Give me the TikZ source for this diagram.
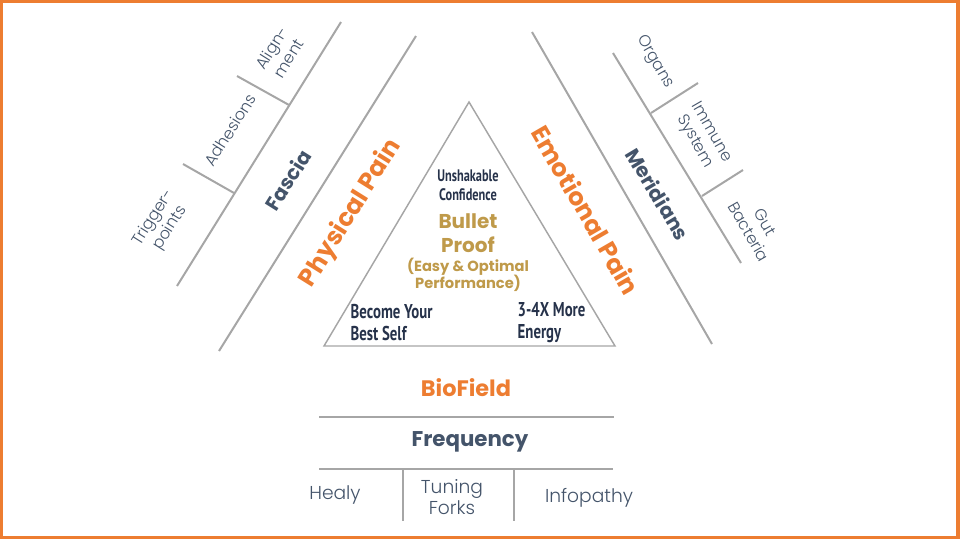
\documentclass[tikz,border=0pt]{standalone}
\usepackage{fontspec}
\setmainfont{Poppins}
\newfontfamily\poplight{Poppins Light}
\newfontfamily\narrowsans[FakeStretch=0.74]{PT Sans}
\usetikzlibrary{positioning}
\definecolor{framecol}{HTML}{ED7D31}
\definecolor{navy}{HTML}{44546A}
\definecolor{darknavy}{HTML}{26324A}
\definecolor{gold}{HTML}{BF9A4A}
\definecolor{linegray}{HTML}{A6A6A6}

\begin{document}
\begin{tikzpicture}[x=0.75pt,y=-0.75pt,
	rule/.style={draw=linegray, line width=1.5pt},
	pain/.style={font=\bfseries\fontsize{18.5}{20}\selectfont, text=framecol},
	branch/.style={font=\bfseries\fontsize{15}{17}\selectfont, text=navy},
	twig/.style={font=\poplight\fontsize{12}{14.5}\selectfont, text=navy, align=center},
	core/.style={font=\narrowsans\bfseries\fontsize{15}{16.5}\selectfont, text=darknavy, align=left}]
	\useasboundingbox (0,0) rectangle (960,540);
	\draw[framecol, line width=2.3pt] (1.5,1.5) rectangle (958,537.5);

	% left side
	\coordinate (pp1) at (416,36);
	\coordinate (pp2) at (219,351);
	\coordinate (fa1) at (341,22);
	\coordinate (fa2) at (177,286);
	\coordinate (t1a) at (237,76);
	\coordinate (t1b) at (289,105);
	\coordinate (t2a) at (183,164);
	\coordinate (t2b) at (234,193);
	\draw[rule] (pp1) -- (pp2);
	\draw[rule] (fa1) -- (fa2);
	\draw[rule] (t1a) -- (t1b);
	\draw[rule] (t2a) -- (t2b);
	\node[twig, rotate=58] (align) at (280,53) {Align-\\ment};
	\node[twig, rotate=58] (adhes) at (230,130) {Adhesions};
	\node[twig, rotate=58] (trigger) at (162,223) {Trigger-\\points};
	\node[branch, rotate=58] (fascia) at (288,180) {Fascia};
	\node[pain, rotate=58] (physical) at (351,213) {Physical Pain};

	% right side
	\coordinate (ep1) at (532,32);
	\coordinate (ep2) at (712,344);
	\coordinate (me1) at (613,53);
	\coordinate (me2) at (741,263);
	\coordinate (t3a) at (651,113);
	\coordinate (t3b) at (698,83);
	\coordinate (t4a) at (702,196);
	\coordinate (t4b) at (743,170);
	\draw[rule] (ep1) -- (ep2);
	\draw[rule] (me1) -- (me2);
	\draw[rule] (t3a) -- (t3b);
	\draw[rule] (t4a) -- (t4b);
	\node[twig, rotate=-60] (organs) at (655,62) {Organs};
	\node[twig, rotate=-60] (immune) at (703,137) {Immune\\System};
	\node[twig, rotate=-60] (gut) at (757,227) {Gut\\Bacteria};
	\node[branch, rotate=-59] (meridians) at (658,194) {Meridians};
	\node[pain, rotate=-60] (emotional) at (586,210) {Emotional Pain};

	% triangle
	\coordinate (apex) at (469,102);
	\coordinate (baseL) at (324,346);
	\coordinate (baseR) at (615,346);
	\draw[draw=linegray, line width=1.1pt] (apex) -- (baseL) -- (baseR) -- cycle;
	\node[core, align=center, font=\narrowsans\bfseries\fontsize{12.5}{14.5}\selectfont] (confid) at (468,185) {Unshakable\\Confidence};
	\node[font=\bfseries\fontsize{15}{18}\selectfont, text=gold, align=center] (bullet) at (468,233) {Bullet\\Proof};
	\node[font=\bfseries\fontsize{11}{13}\selectfont, text=gold, align=center] (easy) at (468,275) {(Easy \& Optimal\\Performance)};
	\node[core, anchor=west] (self) at (346,323) {Become Your\\Best Self};
	\node[core, anchor=west] (energy) at (513,323) {3-4X More\\Energy};

	% bottom
	\coordinate (b1a) at (319,417);
	\coordinate (b1b) at (614,417);
	\coordinate (b2a) at (319,469);
	\coordinate (b2b) at (613,469);
	\coordinate (v1a) at (403,469);
	\coordinate (v1b) at (403,521);
	\coordinate (v2a) at (514,469);
	\coordinate (v2b) at (514,521);
	\draw[rule] (b1a) -- (b1b);
	\draw[rule] (b2a) -- (b2b);
	\draw[rule] (v1a) -- (v1b);
	\draw[rule] (v2a) -- (v2b);
	\node[font=\bfseries\fontsize{16.8}{18}\selectfont, text=framecol] (biofield) at (466,388) {BioField};
	\node[font=\bfseries\fontsize{16}{18}\selectfont, text=navy] (freq) at (470,442) {Frequency};
	\node[twig, font=\poplight\fontsize{14}{16}\selectfont] (healy) at (335,495) {Healy};
	\node[twig, font=\poplight\fontsize{14}{16}\selectfont] (forks) at (452,497) {Tuning\\Forks};
	\node[twig, font=\poplight\fontsize{14}{16}\selectfont] (infopathy) at (589,498) {Infopathy};
\end{tikzpicture}
\end{document}
